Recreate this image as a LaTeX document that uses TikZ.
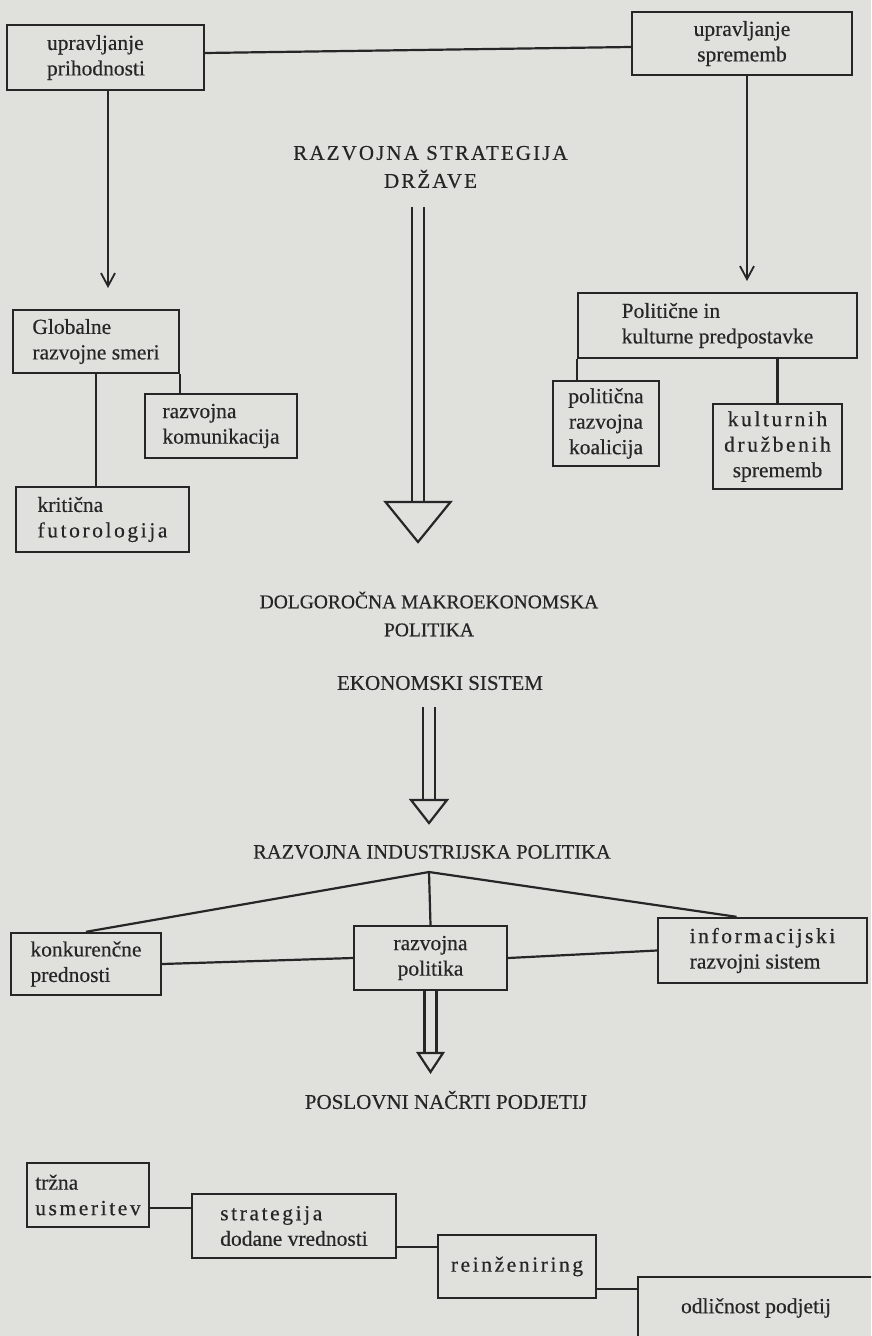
\documentclass[tikz,border=0pt]{standalone}
\usepackage{fontspec}
\setmainfont{Liberation Serif}[FakeBold=0.4]
\newfontfamily\lsp{Liberation Serif}[LetterSpace=12,FakeBold=0.4]
\newfontfamily\lspT{Liberation Serif}[LetterSpace=10,FakeBold=0.4]
\usetikzlibrary{arrows.meta,calc}
\definecolor{paper}{HTML}{E0E0DD}
\definecolor{ink}{HTML}{262626}
\begin{document}
\begin{tikzpicture}[x=1pt,y=-1pt,
  bx/.style 2 args={draw=ink, line width=2.4pt, rectangle, inner sep=0pt,
     align=center, minimum width=#1, minimum height=#2, text=ink,
     font=\fontsize{21.5}{25.5}\selectfont},
  ttl/.style={inner sep=0pt, align=center, text=ink, font=\fontsize{21}{28}\selectfont},
  link/.style={draw=ink, line width=2.2pt},
  arr/.style={link, -{Straight Barb[length=13pt,width=14pt,line width=1.8pt]}},
  hollow/.style={draw=ink, line width=2.2pt, line join=miter}]
\useasboundingbox (0,0) rectangle (871,1336);
\fill[paper] (0,0) rectangle (871,1336);
\clip (0,0) rectangle (871,1336);

% top
\node[bx={197}{65}, align=left, text width=117pt, inner xsep=40pt] (A) at (105.5,57.5) {upravljanje\\prihodnosti};
\node[bx={220}{63}] (B) at (742,43.5) {upravljanje\\sprememb};
\node[ttl, font=\lspT\fontsize{21}{28}\selectfont] (T1) at (430.5,167) {RAZVOJNA STRATEGIJA\\DRŽAVE};

% left branch
\node[bx={166}{63}, align=left] (G) at (96,341.5) {Globalne\\razvojne smeri};
\node[bx={152}{64}, align=left] (K) at (221,426) {razvojna\\komunikacija};
\node[bx={173}{65}, align=left] (F) at (102.5,519.5) {kritična\\{\lsp futorologija}};

% right branch
\node[bx={279}{65}, align=left] (P) at (717.5,325.5) {Politične in\\kulturne predpostavke};
\node[bx={106}{85}] (Q) at (606,423.5) {politična\\razvojna\\koalicija};
\node[bx={129}{85}] (C) at (777.5,446.5) {{\lsp kulturnih}\\{\lsp družbenih}\\sprememb};

% middle titles
\node[ttl, font=\fontsize{19.5}{28}\selectfont] (T2) at (429,614) {DOLGOROČNA MAKROEKONOMSKA\\POLITIKA};
\node[ttl] (T3) at (440,683) {EKONOMSKI SISTEM};
\node[ttl, font=\fontsize{20.5}{28}\selectfont] (T4) at (432,852) {RAZVOJNA INDUSTRIJSKA POLITIKA};

% industrial policy row
\node[bx={150}{62}, align=left] (N) at (86,964) {konkurenčne\\prednosti};
\node[bx={153}{64}] (R) at (430.5,958) {razvojna\\politika};
\node[bx={209}{65}, align=left] (I) at (762.5,950.5) {{\lsp informacijski}\\razvojni sistem};

% business plans
\node[ttl] (T5) at (446,1100) {POSLOVNI NAČRTI PODJETIJ};
\node[bx={122}{64}, align=left] (Z) at (88,1195) {tržna\\{\lsp usmeritev}};
\node[bx={204}{64}, align=left] (S) at (294,1226) {{\lsp strategija}\\dodane vrednosti};
\node[bx={158}{63}] (E) at (517,1266.5) {{\lsp reinženiring}};
\node[bx={236}{62}] (O) at (756,1308) {odličnost podjetij};

% connectors top
\draw[link] (A.east |- 0,53) -- (B.west |- 0,47);
\coordinate (tipA) at (108,288);
\coordinate (tipB) at (747,281);
\draw[arr] (A.south -| tipA) -- (tipA);
\draw[arr] (B.south -| tipB) -- (tipB);
\draw[link] (G.south) -- (G.south |- F.north);
\draw[link] (G.south east) -- (G.south east |- K.north);
\draw[link] (P.south west) -- (P.south west |- Q.north);
\draw[link] (C.north |- P.south) -- (C.north);

% hollow arrow 1
\coordinate (d1s) at (418,207);
\coordinate (d1e) at (418,502);
\draw[link] ([xshift=-6pt]d1s) -- ([xshift=-6pt]d1e);
\draw[link] ([xshift=6pt]d1s) -- ([xshift=6pt]d1e);
\draw[hollow] ([xshift=-32.5pt]d1e) -- ([xshift=32.5pt]d1e) -- ($(d1e)+(0,40)$) -- cycle;

% hollow arrow 2
\coordinate (d2s) at (429,707);
\coordinate (d2e) at (429,800);
\draw[link] ([xshift=-6pt]d2s) -- ([xshift=-6pt]d2e);
\draw[link] ([xshift=6pt]d2s) -- ([xshift=6pt]d2e);
\draw[hollow] ([xshift=-18pt]d2e) -- ([xshift=18pt]d2e) -- ($(d2e)+(0,23)$) -- cycle;

% industrial policy links
\coordinate (ap) at (429,872);
\draw[link] (ap) -- (N.north);
\draw[link] (ap) -- (R.north);
\draw[link] (ap) -- ([xshift=-26pt]I.north);
\draw[link] (N.east) -- (R.west);
\draw[link] (R.east) -- (I.west);

% hollow arrow 3
\coordinate (d3e) at (430.5,1053);
\draw[link] ([xshift=-6pt]R.south) -- ([xshift=-6pt]d3e);
\draw[link] ([xshift=6pt]R.south) -- ([xshift=6pt]d3e);
\draw[hollow] ([xshift=-12.5pt]d3e) -- ([xshift=12.5pt]d3e) -- ($(d3e)+(0,19)$) -- cycle;

% business chain
\draw[link] (Z.east |- 0,1208) -- (S.west |- 0,1208);
\draw[link] (S.east |- 0,1247) -- (E.west |- 0,1247);
\draw[link] (E.east |- 0,1289) -- (O.west |- 0,1289);
\end{tikzpicture}
\end{document}
